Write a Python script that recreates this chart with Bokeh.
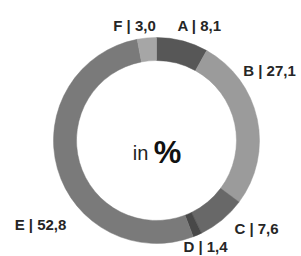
import math
from bokeh.plotting import figure
from bokeh.models import Range1d, ColumnDataSource
from bokeh.core.properties import value
from bokeh.embed import file_html
from bokeh.resources import INLINE

# ---- data ----
categories = ["A", "B", "C", "D", "E", "F"]
shares = [8.1, 27.1, 7.6, 1.4, 52.8, 3.0]
colors = ["#575757", "#9b9b9b", "#686868", "#484848", "#7a7a7a", "#a6a6a6"]
center_word = "in"
center_unit = "%"

# ---- layout ----
W, H = 301, 256
CX, CY = 156, 140           # ring centre in figure pixels (from top-left)
R_IN, R_OUT = 80, 103
# label anchor offsets from ring centre (x right, y up), pixels
label_offsets = [(43, 115), (113, 70), (100, -88), (49, -106), (-116, -84), (-22, 115)]

total = sum(shares)
starts, ends = [], []
cum = 0.0
for s in shares:
    a0 = math.pi / 2 - 2 * math.pi * cum / total
    cum += s
    a1 = math.pi / 2 - 2 * math.pi * cum / total
    starts.append(a0)
    ends.append(a1)

src = ColumnDataSource(dict(start=starts, end=ends, color=colors))

p = figure(width=W, height=H, output_backend="svg", toolbar_location=None,
           x_range=Range1d(-CX, W - CX), y_range=Range1d(-(H - CY), CY),
           min_border=0, outline_line_color=None)
p.axis.visible = False
p.grid.visible = False
p.background_fill_color = "white"
p.border_fill_color = "white"

p.annular_wedge(x=0, y=0, inner_radius=R_IN, outer_radius=R_OUT,
                start_angle="start", end_angle="end", direction="clock",
                color="color", line_color="color", line_width=0.5, source=src)

labels = [f"{c} | {v:.1f}".replace(".", ",") for c, v in zip(categories, shares)]
lsrc = ColumnDataSource(dict(x=[o[0] for o in label_offsets],
                             y=[o[1] for o in label_offsets], t=labels))
p.text(x="x", y="y", text="t", source=lsrc, text_align="center",
       text_baseline="middle", text_font=value("Liberation Sans"),
       text_font_size="15px", text_font_style="bold", text_color="#262626")

p.text(x=[-16], y=[-12], text=[center_word], text_align="center",
       text_baseline="alphabetic", text_font=value("Liberation Sans"),
       text_font_size="20px", text_color="#222222")
p.text(x=[11], y=[-12], text=[center_unit], text_align="center",
       text_baseline="alphabetic", text_font=value("Liberation Sans"),
       text_font_size="31px", text_font_style="bold", text_color="#111111")

open("out.html", "w").write(file_html(p, INLINE))
